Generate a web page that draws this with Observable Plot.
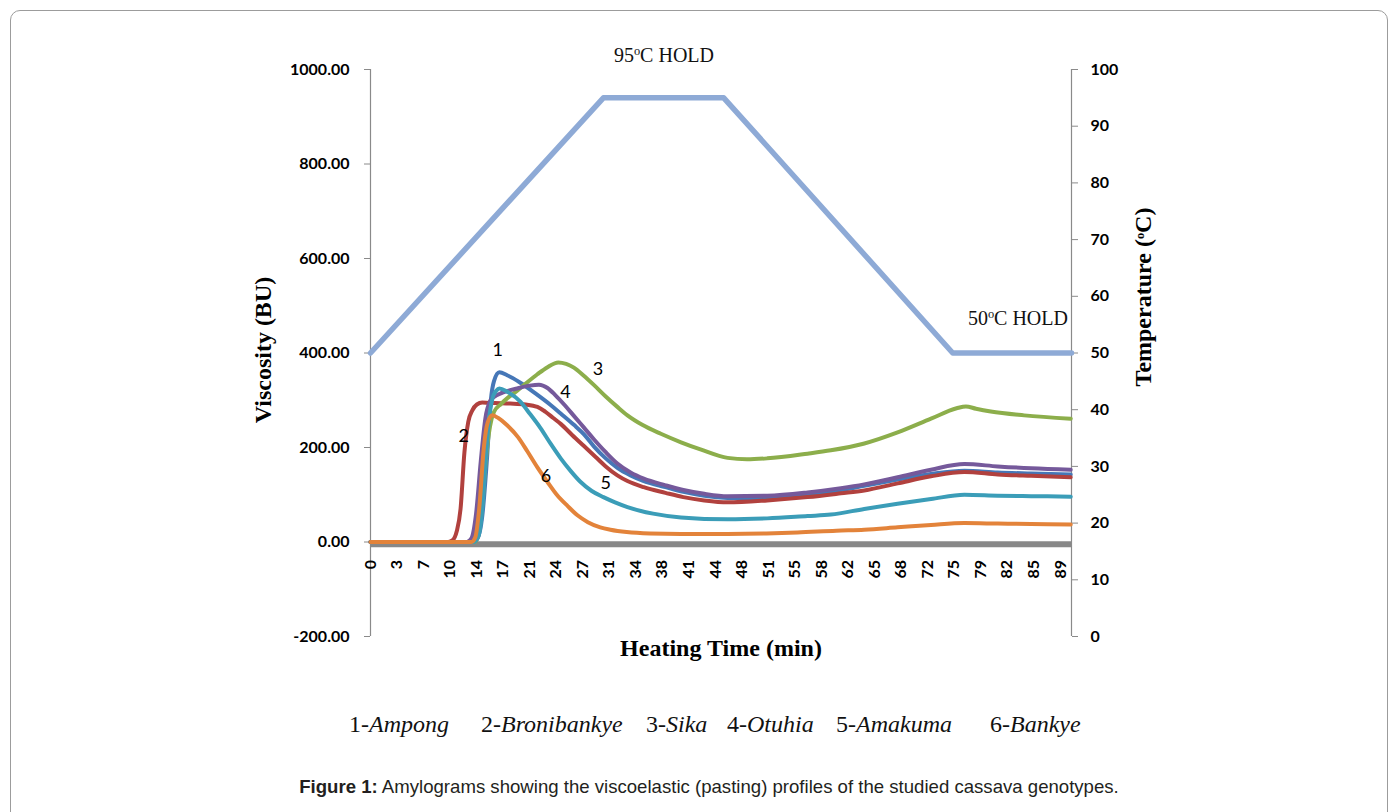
<!DOCTYPE html>
<html>
<head>
<meta charset="utf-8">
<script src="https://cdn.jsdelivr.net/npm/d3@7"></script>
<script src="https://cdn.jsdelivr.net/npm/@observablehq/plot@0.6"></script>
<style>
  html, body { margin: 0; padding: 0; background: #fff; }
  #wrap { position: relative; width: 1398px; height: 812px; overflow: hidden; background: #fff; }
  #frame { position: absolute; left: 10px; top: 10px; width: 1378px; height: 840px;
           border: 1px solid #9c9c9c; border-radius: 10px; box-sizing: border-box; }
  #chart { position: absolute; left: 0; top: 0; }
  #legend { position: absolute; left: 0; top: 712px; height: 28px; width: 1398px;
            font-family: "Liberation Serif", "Times New Roman", serif; font-size: 24px; line-height: 24px; color: #111; }
  #legend span { position: absolute; top: 0; white-space: nowrap; }
  #legend i { font-style: italic; }
  #caption { position: absolute; left: 0; top: 776px; width: 1418px; text-align: center;
             font-family: "Liberation Sans", Arial, sans-serif; font-size: 18.6px; line-height: 22px; color: #231f20; white-space: nowrap; }
</style>
</head>
<body>
<div id="wrap">
  <div id="frame"></div>
  <div id="chart"></div>
  <div id="legend"></div>
  <div id="caption"><b>Figure 1:</b> Amylograms showing the viscoelastic (pasting) profiles of the studied cassava genotypes.</div>
</div>
<script>
// ---------------- data ----------------
const seriesNames = ["Ampong", "Bronibankye", "Sika", "Otuhia", "Amakuma", "Bankye"];
const seriesColors = ["#4677B7", "#B1413E", "#8CAE4B", "#75599B", "#3B9DB8", "#E3833A"];

// [time (min), viscosity (BU)]
const ampong = [[0,0],[13.2,0],[13.8,8],[14.4,55],[15.0,175],[15.5,300],[15.9,340],[16.6,359],[17.6,353],[19.3,337],[21.2,315],[23.2,290],[24.5,272],[26.2,248],[27.5,228],[28.8,202],[30.3,177],[31.8,157],[33.5,141],[35.2,129],[38,116],[40.3,106],[43,98],[46,93],[48.5,92],[51.1,93],[56.3,100],[60.6,110],[63.6,119],[67.9,132],[72.2,144],[76.5,151],[80.8,147],[85.1,145],[90.2,143]];
const bronibankye = [[0,0],[10.0,0],[10.6,4],[11.1,22],[11.6,70],[12.1,190],[12.6,255],[13.1,278],[13.7,291],[14.4,295],[16,294],[18,293],[20,291],[21.5,286],[22.5,276],[23.5,263],[24.5,250],[26,226],[27.5,203],[29,180],[30.3,160],[31.8,141],[33.1,129],[35.2,116],[38,104],[40.3,95],[43,88],[46,84],[51.1,88],[56.3,95],[60.6,103],[63.6,109],[67.9,124],[72.2,139],[76.5,148],[80.8,143],[85.1,140],[90.2,137]];
const sika = [[0,0],[13.4,0],[13.9,15],[14.4,80],[14.9,180],[15.4,245],[15.9,275],[16.8,292],[17.6,304],[18.9,320],[20.2,338],[21.5,355],[22.8,370],[24.2,380],[25.2,377],[26.2,369],[27.4,353],[28.8,332],[30.3,308],[31.8,286],[33.1,268],[35,248],[37.4,229],[40,211],[42.5,196],[46,178],[48.5,175],[51.1,177],[56.3,187],[59.3,194],[63.5,208],[67.9,232],[72.2,261],[75.5,283],[76.7,287],[78,282],[79.9,276],[84.2,268],[90.2,261]];
const otuhia = [[0,0],[12.4,0],[13.0,8],[13.6,60],[14.2,170],[14.8,262],[15.4,298],[15.9,307],[17,316],[18.9,325],[20.5,331],[21.7,333],[22.8,326],[23.8,311],[25,290],[26.2,267],[27.5,242],[28.8,217],[30.3,190],[31.8,166],[33.5,147],[35.2,134],[38,120],[40.3,110],[43,102],[46,97],[51.1,98],[56.3,105],[60.6,114],[63.6,122],[67.9,137],[72.2,153],[76.5,165],[80.8,160],[85.1,156],[90.2,153]];
const amakuma = [[0,0],[13.3,0],[13.9,12],[14.4,70],[14.8,165],[15.3,265],[15.7,303],[16.2,320],[16.6,325],[17.6,318],[19.3,297],[20.5,272],[21.9,241],[23.2,208],[24.5,177],[25.8,150],[27,128],[28.5,108],[30,95],[31.5,84],[33.1,74],[36.4,60],[40,52],[46,48],[51.1,50],[56.3,55],[59.3,58],[63.6,70],[67.9,81],[72.2,91],[76.5,100],[80.8,98],[85.1,97],[90.2,96]];
const bankye = [[0,0],[13.0,0],[13.5,10],[14.0,70],[14.6,200],[15.1,253],[15.7,268],[16.5,262],[17.6,247],[19,222],[20.2,192],[21.5,158],[22.8,127],[24,100],[25.4,76],[26.7,56],[28,42],[29.6,31],[30.9,26],[33,21],[36,18],[40,17],[46,17],[51,18],[55,20],[60,24],[63.6,26],[67.9,31],[72.2,36],[76.5,40],[80.8,39],[85.1,38],[90.2,37]];
const viscositySeries = [ampong, bronibankye, sika, otuhia, amakuma, bankye];

// temperature programme [time (min), temperature (°C)]
const temperature = [[0,50],[30,95],[45.5,95],[75,50],[90.3,50]];

// axes
const timeDomain = [0, 90.3];
const xTickLabels = [0,3,7,10,14,17,21,24,27,31,34,38,41,44,48,51,55,58,62,65,68,72,75,79,82,85,89];
const xTickStep = 3.418;              // minutes between labelled readings
const viscTicks = [-200, 0, 200, 400, 600, 800, 1000];
const tempTicks = [0,10,20,30,40,50,60,70,80,90,100];

// annotations
const curveLabels = [
  {n:"1", t:16.4, v:405}, {n:"2", t:12.0, v:223}, {n:"3", t:29.3, v:366},
  {n:"4", t:25.1, v:316}, {n:"5", t:30.3, v:124}, {n:"6", t:22.6, v:139}
];
const holdLabels = [{text:"95°C HOLD", t:37.8, v:1030}, {text:"50°C HOLD", t:83.4, v:473}];

// secondary axis mapping: temperature 0..100 shares the range of viscosity -200..1000
const t2v = T => T * 12 - 200;
const v2t = v => (v + 200) / 12;

// ---------------- chart ----------------
const serif = "Liberation Serif, Times New Roman, serif";
const lineMarks = viscositySeries.map((s, i) =>
  Plot.line(s, {x: d => d[0], y: d => d[1], stroke: seriesColors[i], strokeWidth: 4, curve: "monotone-x"}));

const chart = Plot.plot({
  width: 1398, height: 680,
  marginLeft: 370, marginRight: 327, marginTop: 69, marginBottom: 44,
  x: {domain: timeDomain, axis: null},
  y: {domain: [-200, 1000]},
  style: {fontFamily: "Lato, sans-serif", background: "transparent", overflow: "visible", color: "#000"},
  marks: [
    Plot.ruleX([timeDomain[0]], {stroke: "#8a8a8a", strokeWidth: 1.2}),
    Plot.ruleX([timeDomain[1]], {stroke: "#8a8a8a", strokeWidth: 1.2}),
    Plot.axisY({anchor: "left", ticks: viscTicks, tickFormat: d => d.toFixed(2), tickSize: 6, tickPadding: 15,
                fontSize: 16, fontWeight: "bold", stroke: "#8a8a8a", fill: "#000", label: null}),
    Plot.axisY({anchor: "right", ticks: tempTicks.map(t2v), tickFormat: d => String(Math.round(v2t(d))), tickSize: 6, tickPadding: 13,
                fontSize: 16, fontWeight: "bold", stroke: "#8a8a8a", fill: "#000", label: null}),
    Plot.ruleY([-5], {stroke: "#888888", strokeWidth: 6}),
    Plot.line(temperature, {x: d => d[0], y: d => t2v(d[1]), stroke: "#8EAAD6", strokeWidth: 5.5}),
    ...lineMarks,
    Plot.text(xTickLabels, {x: (d, i) => i * xTickStep, y: 0, text: d => String(d), rotate: -90, textAnchor: "end",
                            dy: 18, fontSize: 16, fontWeight: "bold", fill: "#000"}),
    Plot.text(curveLabels, {x: "t", y: "v", text: "n", fontSize: 18, fill: "#000"}),
    Plot.text(holdLabels, {x: "t", y: "v", text: "text", fontSize: 20, fontFamily: serif, fill: "#111"}),
    Plot.text(["Viscosity (BU)"], {frameAnchor: "left", textAnchor: "middle", dx: -107, dy: -3, rotate: -90, fontSize: 24, fontWeight: "bold", fontFamily: serif, fill: "#000"}),
    Plot.text(["Temperature (°C)"], {frameAnchor: "right", textAnchor: "middle", dx: 72, dy: -56, rotate: -90, fontSize: 24, fontWeight: "bold", fontFamily: serif, fill: "#000"}),
    Plot.text(["Heating Time (min)"], {frameAnchor: "bottom", dy: 19, fontSize: 24, fontWeight: "bold", fontFamily: serif, fill: "#000"})
  ]
});

// superscript "o" in °C labels
d3.select(chart).selectAll("text").each(function () {
  const s = this.textContent;
  if (!s.includes("°")) return;
  const fs = parseFloat(getComputedStyle(this).fontSize) || 20;
  const [a, b] = s.split("°");
  const sel = d3.select(this);
  sel.text(null);
  sel.append("tspan").text(a);
  sel.append("tspan").attr("font-size", fs * 0.62).attr("dy", -fs * 0.36).text("o");
  sel.append("tspan").attr("dy", fs * 0.36).text(b);
});

document.getElementById("chart").appendChild(chart);

// legend below the chart
const legendLefts = [349, 481, 646, 727, 836, 990];
const legend = document.getElementById("legend");
seriesNames.forEach((name, i) => {
  const sp = document.createElement("span");
  sp.style.left = legendLefts[i] + "px";
  sp.innerHTML = (i + 1) + "-<i>" + name + "</i>";
  legend.appendChild(sp);
});
</script>
</body>
</html>
